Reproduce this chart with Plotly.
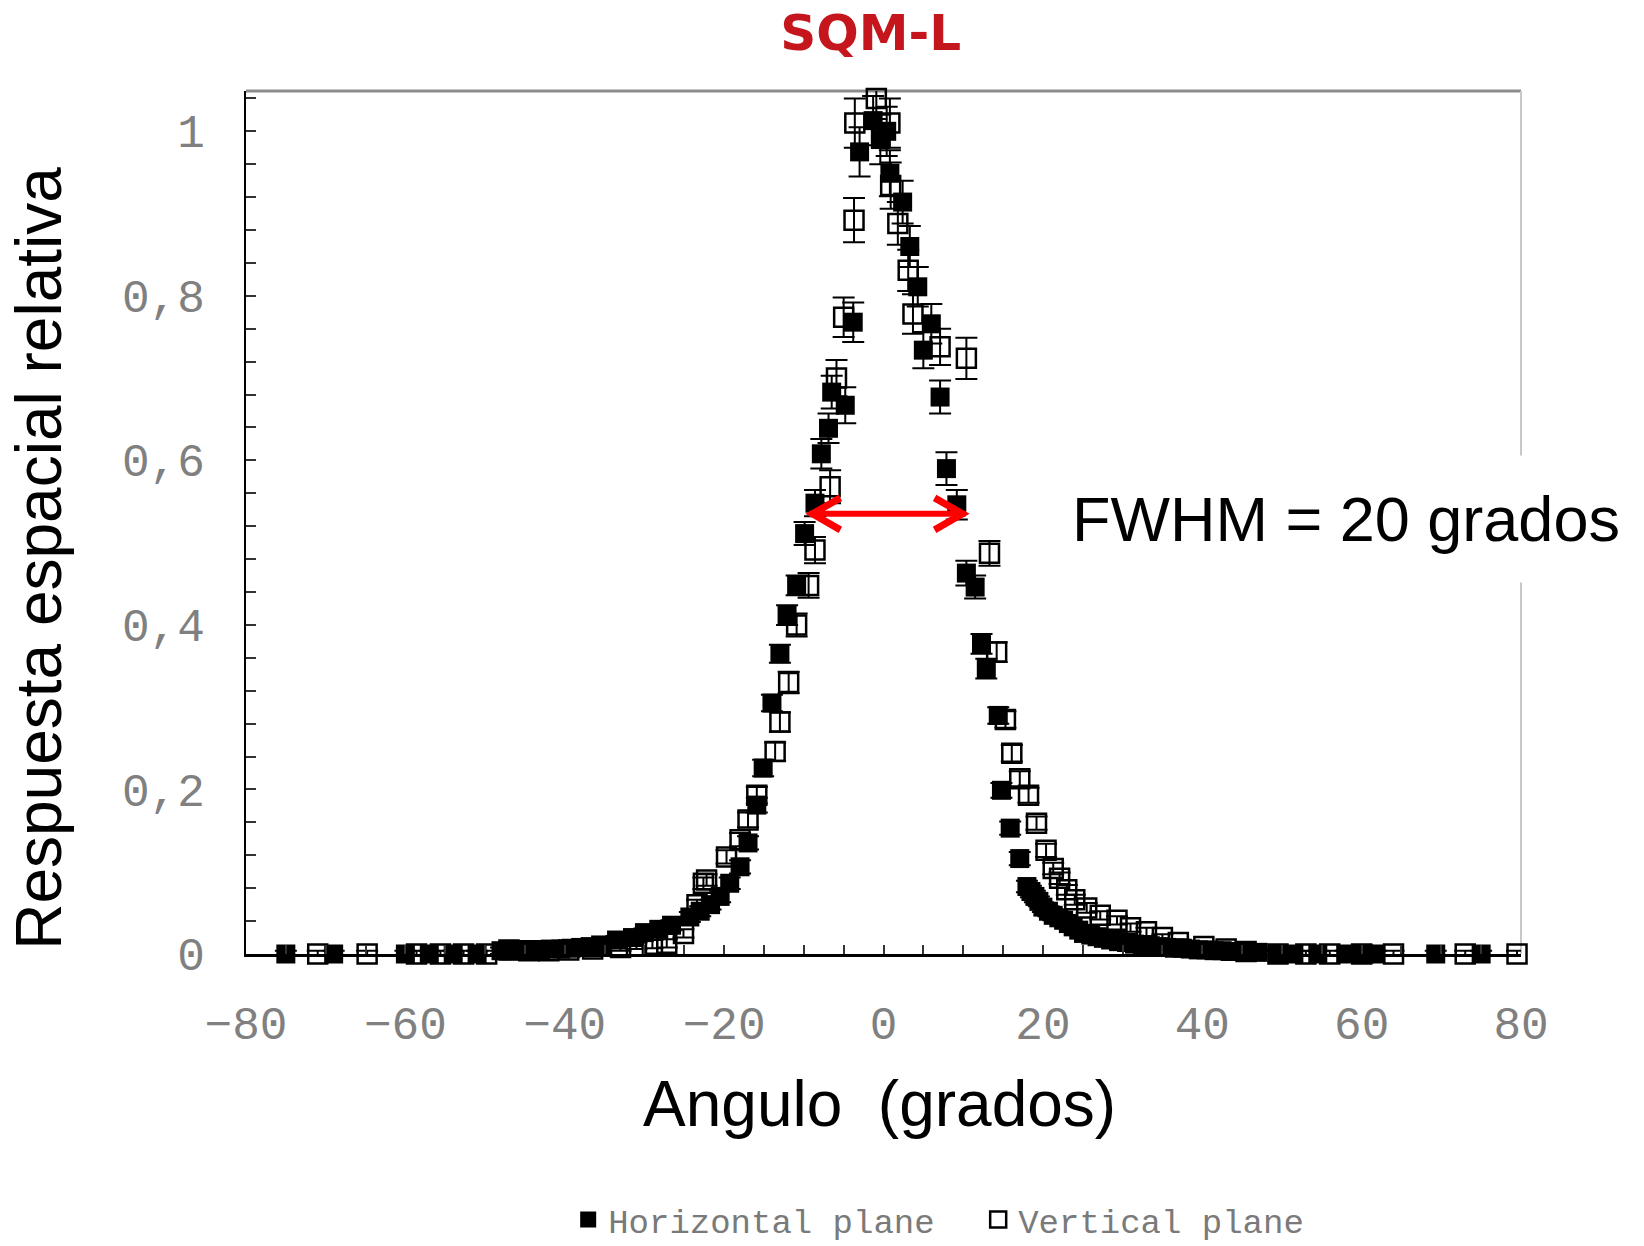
import plotly.graph_objects as go

# ---------------- data ----------------
# Horizontal plane (filled squares)
h_angle = [-75.0, -69.0, -60.0, -57.0, -54.0, -51.0, -48.0, -46.8, -45.5, -44.2, -43.0, -41.8,
           -40.5, -39.2, -38.0, -36.8, -35.5, -33.5, -31.5, -30.0, -28.2, -26.6, -24.3, -23.0,
           -21.7, -20.5, -19.3, -18.0, -17.0, -15.9, -15.1, -14.0, -13.0, -12.1, -10.9, -9.9,
           -8.6, -7.8, -6.9, -6.5, -4.8, -3.8, -3.0, -1.3, -0.4, 0.4, 0.8, 2.4, 3.3, 4.3,
           5.0, 6.0, 7.1, 7.9, 9.2, 10.4, 11.5, 12.3, 12.9, 14.4, 14.8, 15.9, 17.1, 18.0,
           18.5, 19.0, 19.5, 20.0, 20.7, 21.3, 22.0, 22.6, 23.2, 23.8, 24.5, 25.1, 26.0, 26.8,
           27.6, 28.5, 29.5, 30.5, 31.5, 32.5, 33.5, 34.5, 35.5, 36.5, 37.5, 38.5, 39.5, 40.5,
           41.5, 42.5, 43.5, 44.5, 45.5, 47.0, 49.5, 51.5, 54.5, 58.0, 60.3, 61.8, 69.3, 75.0]
h_resp = [0.000, 0.000, 0.000, 0.000, 0.000, 0.000, 0.004, 0.004, 0.005, 0.005, 0.005, 0.006,
          0.006, 0.007, 0.008, 0.009, 0.011, 0.017, 0.020, 0.026, 0.030, 0.035, 0.045, 0.052,
          0.060, 0.070, 0.086, 0.106, 0.135, 0.181, 0.226, 0.305, 0.365, 0.412, 0.448, 0.511,
          0.548, 0.608, 0.639, 0.683, 0.667, 0.768, 0.975, 1.013, 0.990, 1.000, 0.949, 0.914, 0.860, 0.811,
          0.734, 0.766, 0.677, 0.590, 0.546, 0.463, 0.446, 0.377, 0.347, 0.290, 0.199, 0.153, 0.116, 0.082,
          0.076, 0.070, 0.064, 0.057, 0.052, 0.047, 0.044, 0.041, 0.037, 0.033, 0.029, 0.025, 0.023, 0.021,
          0.019, 0.017, 0.015, 0.014, 0.012, 0.011, 0.010, 0.009, 0.008, 0.007, 0.007, 0.006, 0.005, 0.005,
          0.004, 0.004, 0.003, 0.003, 0.002, 0.002, 0.000, 0.000, 0.000, 0.000, 0.000, 0.000, 0.000, 0.000]
h_err = [0.004, 0.004, 0.004, 0.004, 0.004, 0.004, 0.004, 0.004, 0.004, 0.004, 0.004, 0.004,
         0.004, 0.004, 0.004, 0.004, 0.004, 0.005, 0.005, 0.005, 0.005, 0.006, 0.006, 0.006,
         0.006, 0.007, 0.007, 0.008, 0.008, 0.009, 0.010, 0.010, 0.011, 0.012, 0.012, 0.014,
         0.016, 0.018, 0.018, 0.020, 0.022, 0.024, 0.030, 0.030, 0.030, 0.030, 0.028, 0.026, 0.025, 0.024,
         0.022, 0.024, 0.020, 0.020, 0.018, 0.015, 0.014, 0.012, 0.012, 0.010, 0.009, 0.008, 0.008, 0.007,
         0.007, 0.007, 0.006, 0.006, 0.006, 0.006, 0.006, 0.006, 0.005, 0.005, 0.005, 0.005, 0.005, 0.005,
         0.005, 0.005, 0.004, 0.004, 0.004, 0.004, 0.004, 0.004, 0.004, 0.004, 0.004, 0.004, 0.004, 0.004,
         0.004, 0.004, 0.004, 0.004, 0.004, 0.004, 0.004, 0.004, 0.004, 0.004, 0.004, 0.004, 0.004, 0.004]

# Vertical plane (open squares)
v_angle = [-71.0, -64.8, -58.6, -55.6, -52.7, -49.8, -47.0, -44.5, -42.0, -39.5, -36.5, -33.0,
           -31.0, -29.0, -27.2, -25.1, -23.4, -22.6, -22.2, -19.7, -18.0, -17.0, -15.9, -13.6,
           -13.0, -11.9, -10.9, -9.4, -8.6, -6.7, -5.9, -5.0, -3.7, -3.6, -0.9, 0.8, 0.9, 1.8,
           3.1, 3.7, 7.1, 10.4, 13.3, 14.2, 15.3, 16.1, 17.1, 18.2, 19.2, 20.4, 21.3, 22.1,
           23.0, 24.0, 25.5, 27.2, 29.3, 31.0, 33.0, 35.0, 37.0, 40.2, 43.0, 45.5, 49.5, 53.0,
           56.0, 60.0, 64.0, 73.0, 79.5]
v_resp = [0.000, 0.000, 0.000, 0.000, 0.000, 0.000, 0.005, 0.004, 0.004, 0.005, 0.006, 0.008,
          0.010, 0.012, 0.013, 0.025, 0.060, 0.086, 0.090, 0.118, 0.139, 0.163, 0.193, 0.246,
          0.282, 0.330, 0.400, 0.448, 0.491, 0.568, 0.700, 0.774, 0.892, 1.010, 1.040, 1.010, 0.934, 0.888,
          0.831, 0.778, 0.738, 0.724, 0.487, 0.367, 0.285, 0.244, 0.213, 0.193, 0.159, 0.126, 0.104, 0.092,
          0.078, 0.066, 0.056, 0.047, 0.041, 0.032, 0.027, 0.020, 0.014, 0.009, 0.006, 0.003, 0.000, 0.000,
          0.000, 0.000, 0.000, 0.000, 0.000]
v_err = [0.004, 0.004, 0.004, 0.004, 0.004, 0.004, 0.004, 0.004, 0.004, 0.004, 0.004, 0.004,
         0.004, 0.005, 0.005, 0.005, 0.006, 0.007, 0.007, 0.008, 0.008, 0.009, 0.010, 0.011,
         0.012, 0.013, 0.014, 0.015, 0.016, 0.020, 0.022, 0.024, 0.027, 0.030, 0.025, 0.030, 0.028, 0.026,
         0.025, 0.024, 0.022, 0.025, 0.015, 0.012, 0.010, 0.010, 0.009, 0.009, 0.008, 0.008, 0.007, 0.007,
         0.006, 0.006, 0.006, 0.005, 0.005, 0.005, 0.005, 0.004, 0.004, 0.004, 0.004, 0.004, 0.004, 0.004,
         0.004, 0.004, 0.004, 0.004, 0.004]

x_tickvals = [-80, -60, -40, -20, 0, 20, 40, 60, 80]
x_ticktext = ["\u221280", "\u221260", "\u221240", "\u221220", "0", "20", "40", "60", "80"]
y_tickvals = [0, 0.2, 0.4, 0.6, 0.8, 1.0]
y_ticktext = ["0", "0,2", "0,4", "0,6", "0,8", "1"]

fwhm_lo, fwhm_hi, half_level = -9.3, 10.3, 0.535

title_text = "SQM-L"
x_title = "Angulo\u00a0 (grados)"
y_title = "Respuesta espacial relativa"
fwhm_text = "FWHM = 20 grados"

# ---------------- figure ----------------
fig = go.Figure()

fig.add_trace(go.Scatter(
    x=v_angle, y=v_resp, mode="markers", name="Vertical plane", legendrank=2,
    marker=dict(symbol="square-open", size=19, color="black", line=dict(color="black", width=2.5)),
    error_y=dict(type="data", array=v_err, visible=True, color="black", thickness=2, width=11),
    cliponaxis=False,
))
fig.add_trace(go.Scatter(
    x=h_angle, y=h_resp, mode="markers", name="Horizontal plane", legendrank=1,
    marker=dict(symbol="square", size=19, color="black", line=dict(width=0)),
    error_y=dict(type="data", array=h_err, visible=True, color="black", thickness=2, width=11),
    cliponaxis=False,
))

tick_font = dict(family="Liberation Mono", size=46, color="#808080")

fig.update_xaxes(
    range=[-80, 80], tickvals=x_tickvals, ticktext=x_ticktext, tickfont=tick_font,
    ticks="inside", ticklen=9, tickwidth=2, tickcolor="#333",
    minor=dict(dtick=5, tick0=0, ticks="inside", ticklen=9, tickwidth=2, tickcolor="#333"),
    showline=True, linecolor="black", linewidth=3, showgrid=False, zeroline=False,
    ticklabelstandoff=27, automargin=False,
)
fig.update_yaxes(
    range=[0, 1.049], tickvals=y_tickvals, ticktext=y_ticktext, tickfont=tick_font,
    ticks="inside", ticklen=10, tickwidth=2, tickcolor="#333",
    minor=dict(dtick=0.04, tick0=0, ticks="inside", ticklen=10, tickwidth=2, tickcolor="#333"),
    showline=True, linecolor="black", linewidth=2, showgrid=False, zeroline=False,
    ticklabelstandoff=30, automargin=False,
)

shapes = [
    # top frame (gray) and right frame (light gray)
    dict(type="line", xref="paper", yref="paper", x0=0, x1=1, y0=1, y1=1,
         line=dict(color="#8c8c8c", width=3), layer="below"),
    dict(type="line", xref="paper", yref="paper", x0=1, x1=1, y0=0, y1=1,
         line=dict(color="#c8c8c8", width=2), layer="below"),
    # FWHM double arrow
    dict(type="line", xref="x", yref="y", x0=fwhm_lo, x1=fwhm_hi, y0=half_level, y1=half_level,
         line=dict(color="#ff0000", width=6), layer="above"),
    dict(type="path", xref="x", yref="y", xsizemode="pixel", ysizemode="pixel",
         xanchor=fwhm_lo, yanchor=half_level, path="M 31,16 L 3,0 L 31,-16",
         line=dict(color="#ff0000", width=7), layer="above"),
    dict(type="path", xref="x", yref="y", xsizemode="pixel", ysizemode="pixel",
         xanchor=fwhm_hi, yanchor=half_level, path="M -31,16 L -3,0 L -31,-16",
         line=dict(color="#ff0000", width=7), layer="above"),
]

annotations = [
    dict(text=x_title, xref="paper", yref="paper", x=0.4965, y=-0.174,
         xanchor="center", yanchor="middle", showarrow=False,
         font=dict(family="Liberation Sans", size=64, color="black")),
    dict(text=y_title, xref="paper", yref="paper", x=-0.1624, y=0.459, textangle=-90,
         xanchor="center", yanchor="middle", showarrow=False,
         font=dict(family="Liberation Sans", size=64, color="black")),
    dict(text=fwhm_text, xref="paper", yref="paper", x=0.625, y=0.504,
         xanchor="left", yanchor="middle", showarrow=False, bgcolor="white", borderpad=28,
         font=dict(family="Liberation Sans", size=63, color="black")),
]

fig.update_layout(
    width=1644, height=1246,
    margin=dict(l=246, r=123, t=91, b=292, autoexpand=False),
    paper_bgcolor="white", plot_bgcolor="white",
    title=dict(text=title_text, x=0.49, xref="paper", xanchor="center",
               y=0.974, yref="container", yanchor="middle",
               font=dict(family="DejaVu Sans", size=50, color="#c4161c", weight="bold")),
    showlegend=True,
    legend=dict(orientation="h", xref="container", yref="container",
                x=0.595, xanchor="center", y=0.021, yanchor="middle",
                font=dict(family="Liberation Mono", size=34, color="#7a7a7a"),
                itemwidth=30, entrywidth=365, bgcolor="rgba(0,0,0,0)"),
    shapes=shapes, annotations=annotations,
)

fig.write_html("out.html")
